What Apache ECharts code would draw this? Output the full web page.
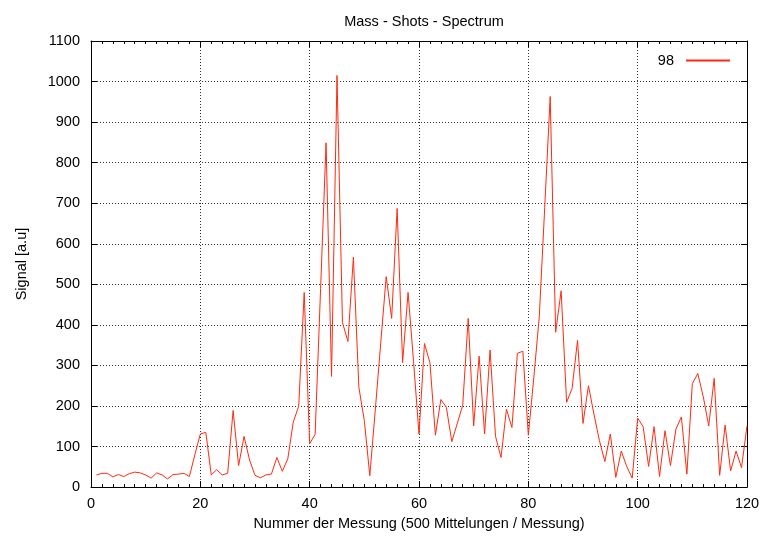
<!DOCTYPE html>
<html>
<head>
<meta charset="utf-8">
<script src="https://cdn.jsdelivr.net/npm/echarts@6/dist/echarts.min.js"></script>
<style>
  html, body { margin: 0; padding: 0; background: #fff; overflow: hidden; }
  #chart { width: 763px; height: 536px; }
</style>
</head>
<body>
<div id="chart"></div>
<script>
// Signal of mass 98 per measurement (each averaged over 500 shots)
const seriesName = '98';
const signal = [
  30, 34, 34, 25, 31, 26, 33, 37, 35, 30,
  22, 35, 30, 20, 31, 32, 34, 26, 80, 131,
  135, 30, 43, 30, 34, 189, 53, 125, 67, 29,
  23, 30, 32, 73, 39, 70, 160, 200, 480, 107,
  130, 490, 849, 273, 1015, 406, 359, 567, 246, 164,
  28, 190, 355, 519, 416, 687, 307, 480, 310, 131,
  354, 307, 128, 216, 197, 112, 157, 202, 416, 151,
  323, 131, 338, 125, 73, 192, 147, 330, 335, 128,
  270, 420, 690, 963, 382, 484, 209, 243, 362, 157,
  250, 180, 115, 63, 131, 24, 89, 51, 22, 170,
  149, 51, 149, 26, 139, 53, 143, 173, 32, 255,
  280, 223, 151, 268, 29, 153, 40, 89, 48, 151
];
// measurement numbers start at 1
const measurement = signal.map((_, i) => i + 1);

const FONT = 'Liberation Sans';
const FS = 14.5;
const points = measurement.map((m, i) => [m, signal[i]]);

const frame = { show: true, onZero: false, lineStyle: { color: '#000', width: 1 } };
const dotted = { show: true, lineStyle: { color: '#333', width: 1, type: [1, 2] } };
const plain = (v) => String(v);

const chart = echarts.init(document.getElementById('chart'), null, { renderer: 'canvas' });
chart.setOption({
  animation: false,
  backgroundColor: '#fff',
  textStyle: { fontFamily: FONT },
  title: {
    text: 'Mass - Shots - Spectrum',
    left: 419,
    textAlign: 'center',
    top: 9,
    textStyle: { fontFamily: FONT, fontSize: FS, fontWeight: 'normal', color: '#000' }
  },
  legend: {
    data: [seriesName],
    right: 28,
    top: 48,
    align: 'right',
    itemWidth: 44,
    itemHeight: 2,
    icon: 'rect',
    textStyle: { fontFamily: FONT, fontSize: FS, color: '#000', padding: [0, 7, 0, 0] }
  },
  grid: { left: 91, top: 41, width: 656, height: 448, containLabel: false },
  xAxis: [
    {
      type: 'value', min: 0, max: 120, interval: 20,
      position: 'bottom',
      name: 'Nummer der Messung (500 Mittelungen / Messung)',
      nameLocation: 'middle', nameGap: 28,
      nameTextStyle: { fontFamily: FONT, fontSize: FS, color: '#000' },
      axisLine: frame,
      axisTick: { show: true, inside: true, length: 6, lineStyle: { color: '#000' } },
      minorTick: { show: true, splitNumber: 10, length: 3, lineStyle: { color: '#000' } },
      axisLabel: { fontFamily: FONT, fontSize: FS, color: '#000', margin: 9, formatter: plain },
      splitLine: dotted
    },
    {
      type: 'value', min: 0, max: 120, interval: 20,
      position: 'top',
      axisLine: frame,
      axisTick: { show: true, inside: true, length: 6, lineStyle: { color: '#000' } },
      minorTick: { show: true, splitNumber: 10, length: 3, lineStyle: { color: '#000' } },
      axisLabel: { show: false },
      splitLine: { show: false }
    }
  ],
  yAxis: [
    {
      type: 'value', min: 0, max: 1100, interval: 100,
      position: 'left',
      name: 'Signal [a.u]',
      nameLocation: 'middle', nameGap: 62,
      nameTextStyle: { fontFamily: FONT, fontSize: FS, color: '#000' },
      axisLine: frame,
      axisTick: { show: true, inside: true, length: 6, lineStyle: { color: '#000' } },
      axisLabel: { fontFamily: FONT, fontSize: FS, color: '#000', margin: 11, formatter: plain },
      splitLine: dotted
    },
    {
      type: 'value', min: 0, max: 1100, interval: 100,
      position: 'right',
      axisLine: frame,
      axisTick: { show: true, inside: true, length: 6, lineStyle: { color: '#000' } },
      axisLabel: { show: false },
      splitLine: { show: false }
    }
  ],
  series: [
    {
      name: seriesName,
      type: 'line',
      xAxisIndex: 0,
      yAxisIndex: 0,
      data: points,
      showSymbol: false,
      symbol: 'none',
      lineStyle: { color: '#ff2a10', width: 1 },
      itemStyle: { color: '#ff2a10' }
    }
  ]
});
</script>
</body>
</html>
